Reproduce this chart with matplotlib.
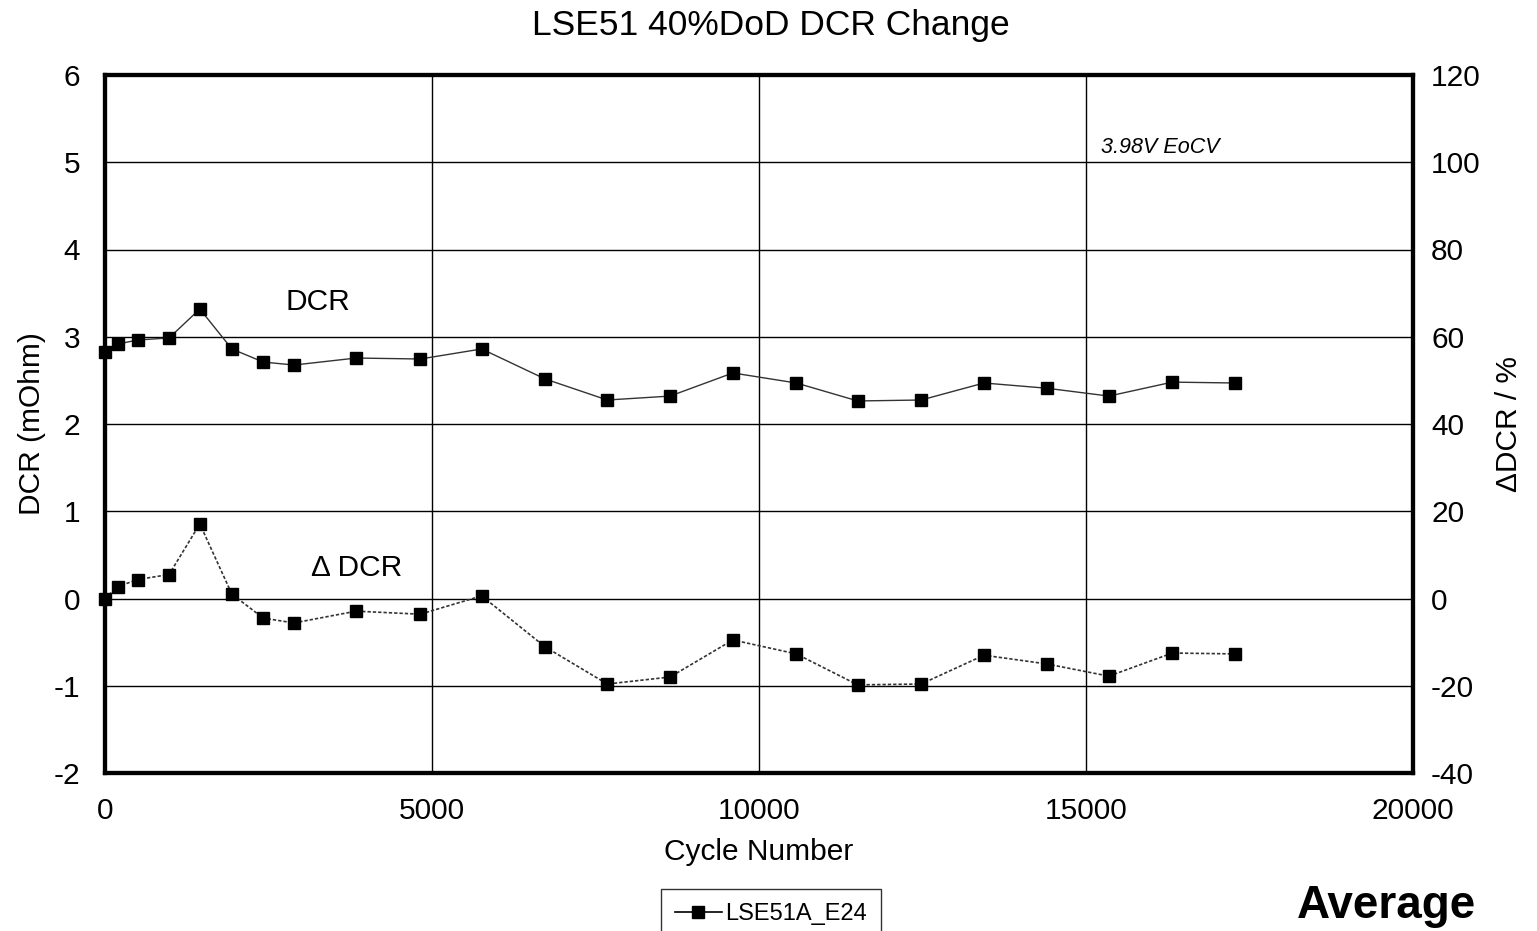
import matplotlib
matplotlib.use("Agg")
import matplotlib.pyplot as plt
from matplotlib.lines import Line2D

plt.rcParams['font.family'] = ['Liberation Sans', 'DejaVu Sans']
plt.rcParams['axes.unicode_minus'] = False

cycles = [0, 200, 500, 980, 1450, 1940, 2420, 2890, 3840, 4820, 5760, 6730,
          7680, 8640, 9600, 10570, 11510, 12480, 13440, 14400, 15350, 16320, 17280]
dcr = [2.825, 2.917, 2.963, 2.986, 3.318, 2.86, 2.71, 2.676, 2.756, 2.745, 2.86, 2.516,
       2.275, 2.32, 2.585, 2.47, 2.264, 2.275, 2.47, 2.41, 2.32, 2.48, 2.47]
delta_dcr = [0.0, 2.75, 4.35, 5.5, 17.1, 1.0, -4.5, -5.6, -2.9, -3.6, 0.6, -11.1,
             -19.6, -18.0, -9.5, -12.7, -19.8, -19.6, -13.0, -15.0, -17.8, -12.5, -12.7]
series_name = "LSE51A_E24"

fig = plt.figure(figsize=(15.37, 9.31), dpi=100)
ax = fig.add_axes([105/1537, 1-773/931, (1413-105)/1537, (773-75)/931])
ax2 = ax.twinx()

ax.plot(cycles, dcr, color='#333333', lw=1.0, marker='s', ms=9,
        mfc='black', mec='black', zorder=3, clip_on=False)
ax2.plot(cycles, delta_dcr, color='#333333', lw=1.2, ls=(0, (2, 1.2)), marker='s', ms=9,
         mfc='black', mec='black', zorder=3, clip_on=False)

ax.set_xlim(0, 20000)
ax.set_ylim(-2, 6)
ax2.set_ylim(-40, 120)
ax.set_xticks(range(0, 20001, 5000))
ax.set_yticks(range(-2, 7))
ax2.set_yticks(range(-40, 121, 20))
ax.grid(True, color='black', lw=1.0)
ax.set_axisbelow(True)

for a in (ax, ax2):
    for s in a.spines.values():
        s.set_linewidth(3)
        s.set_color('black')
    a.tick_params(length=0, labelsize=21.5)
ax.tick_params(axis='y', pad=18)
ax.tick_params(axis='x', pad=17)
ax2.tick_params(axis='y', pad=13)

ax.set_xlabel("Cycle Number", fontsize=21.5, labelpad=10)
ax.set_ylabel("DCR (mOhm)", fontsize=21.5, labelpad=5)
ax2.set_ylabel("ΔDCR / %", fontsize=21.5, labelpad=10)
fig.suptitle("LSE51 40%DoD DCR Change", fontsize=25.5, x=771/1537, y=1-26/931, va='center')

ax.text(3250, 3.4, "DCR", fontsize=21.5, ha='center', va='center')
ax.text(3850, 0.35, "Δ DCR", fontsize=21.5, ha='center', va='center')
ax.text(16140, 5.17, "3.98V EoCV", fontsize=15.5, style='italic', ha='center', va='center')

handle = Line2D([], [], color='black', lw=1.2, marker='s', ms=9, mfc='black')
leg = fig.legend([handle], [series_name], loc='center', bbox_to_anchor=(771/1537, 1-914/931),
                 fontsize=17, frameon=True, fancybox=False, edgecolor='black',
                 handlelength=2.0, handletextpad=0.15, borderpad=0.6, borderaxespad=0)
leg.get_frame().set_linewidth(1.0)

fig.text(1386/1537, 1-906/931, "Average", fontsize=33, fontweight='bold', ha='center', va='center')

fig.savefig("out.png", dpi=100)
